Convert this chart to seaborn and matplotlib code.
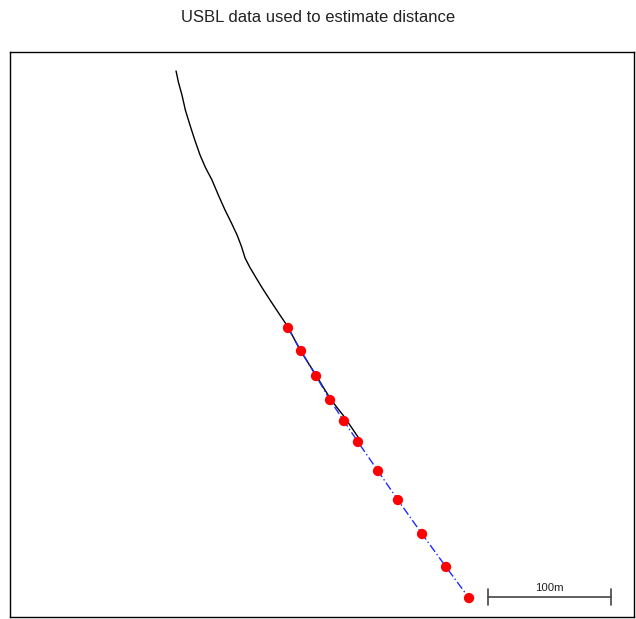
import matplotlib
matplotlib.use("Agg")
import matplotlib.pyplot as plt
import seaborn as sns
import pandas as pd

# Vessel track (metres, local grid)
track_x = [135.0, 137.0, 139.8, 142.6, 146.3, 150.2, 154.5, 159.0, 164.2, 169.4,
           174.8, 179.9, 184.6, 188.2, 191.1, 195.0, 199.2, 205.0, 211.4, 218.6,
           226.0, 230.9, 235.8, 242.3, 248.8, 254.4, 260.2, 265.3, 270.7, 277.8, 284.6]
track_y = [443.9, 434.5, 424.4, 412.0, 400.0, 387.9, 375.6, 365.2, 355.3, 343.0,
           330.9, 320.6, 310.6, 301.2, 291.9, 284.3, 277.2, 267.6, 257.7, 246.8,
           235.8, 226.4, 217.1, 206.8, 196.7, 187.2, 178.0, 171.0, 164.2, 153.9, 143.9]

# USBL fixes (metres, local grid)
usbl_x = [226.0, 236.6, 248.8, 260.2, 271.5, 282.9, 299.2, 315.4, 335.0, 354.5, 373.2]
usbl_y = [235.0, 216.3, 195.9, 176.4, 159.3, 142.3, 118.7, 95.1, 67.5, 40.7, 15.4]

# Scale bar
bar_start = 388.6
bar_length = 100
bar_y = 16.3
bar_label = "100m"

sns.set_theme(style="white")
plt.rcParams["font.family"] = ["Liberation Sans", "DejaVu Sans"]

fig = plt.figure(figsize=(6.36, 6.19), dpi=100)
ax = fig.add_axes([10 / 636, 2 / 619, 624 / 636, 565 / 619])

track = pd.DataFrame({"x": track_x, "y": track_y})
usbl = pd.DataFrame({"x": usbl_x, "y": usbl_y})

sns.lineplot(data=track, x="x", y="y", sort=False, estimator=None,
             color="black", linewidth=1.0, ax=ax)
sns.lineplot(data=usbl, x="x", y="y", sort=False, estimator=None,
             color="#1f2bff", linewidth=1.0, linestyle=(0, (6, 2, 1, 2)), ax=ax)
sns.scatterplot(data=usbl, x="x", y="y", color="#ff0000", s=55,
                edgecolor="none", zorder=5, ax=ax)

# Scale bar with end ticks
ax.plot([bar_start, bar_start + bar_length], [bar_y, bar_y], color="#444444", lw=1.2)
for xe in (bar_start, bar_start + bar_length):
    ax.plot([xe, xe], [bar_y - 6.5, bar_y + 6.5], color="#444444", lw=1.2)
ax.text(bar_start + bar_length / 2, bar_y + 3.5, bar_label, ha="center", va="bottom",
        fontsize=8.2, color="#222222")

ax.set_xlim(0, 624 / 1.23)
ax.set_ylim(0, 565 / 1.23)
ax.set_xticks([])
ax.set_yticks([])
ax.set_xlabel("")
ax.set_ylabel("")
for sp in ax.spines.values():
    sp.set_color("black")
    sp.set_linewidth(1.0)

fig.text(0.5, 1 - 17 / 619, "USBL data used to estimate distance",
         ha="center", va="center", fontsize=12, color="#222222")

fig.savefig("out.png", dpi=100, facecolor="white")
